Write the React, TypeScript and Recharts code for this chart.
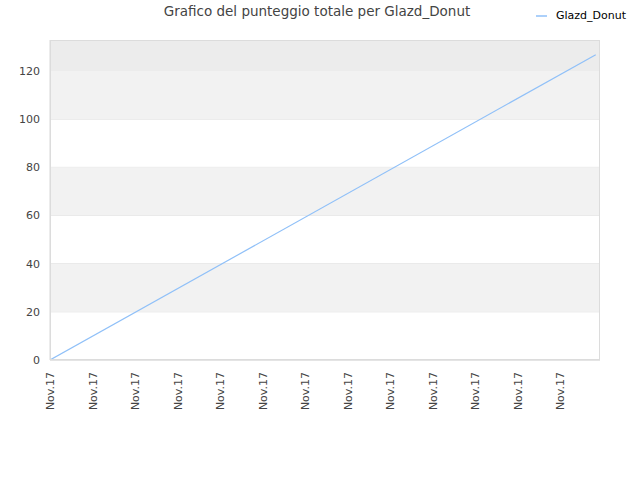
import { LineChart, Line, XAxis, YAxis, CartesianGrid, ReferenceArea } from 'recharts';

// x positions are tick steps along the time axis (all ticks read "Nov.17")
const xValues = [0, 12.84];
const scoreValues = [0, 126.8];
const xTicks = [0, 1, 2, 3, 4, 5, 6, 7, 8, 9, 10, 11, 12];
const xTickLabel = 'Nov.17';
const yTicks = [0, 20, 40, 60, 80, 100, 120];
const yMax = 132.9;

const data = xValues.map((x, i) => ({ x, score: scoreValues[i] }));

const FONT = '"DejaVu Sans", Verdana, sans-serif';

function RotatedTick(props: any) {
  const { x, y } = props;
  return (
    <text
      x={x}
      y={y + 4}
      transform={`rotate(-90, ${x}, ${y + 4})`}
      textAnchor="end"
      dy="0.38em"
      fontSize={11}
      fontFamily={FONT}
      fill="#444"
    >
      {xTickLabel}
    </text>
  );
}

export default function App() {
  return (
    <div style={{ position: 'absolute', left: 0, top: 0, width: 640, height: 480, background: '#fff' }}>
      <div
        style={{
          position: 'absolute',
          top: 3,
          left: 0,
          width: 634,
          textAlign: 'center',
          fontFamily: FONT,
          fontSize: 13.5,
          color: '#444',
        }}
      >
        Grafico del punteggio totale per Glazd_Donut
      </div>
      <div
        style={{
          position: 'absolute',
          top: 9,
          left: 536,
          display: 'flex',
          alignItems: 'center',
          fontFamily: FONT,
          fontSize: 11,
          color: '#000',
        }}
      >
        <svg width={12} height={4} style={{ marginRight: 8 }}>
          <line x1={0} y1={2} x2={11} y2={2} stroke="#90c0f8" strokeWidth={1.5} />
        </svg>
        Glazd_Donut
      </div>
      <LineChart width={640} height={480} data={data} margin={{ top: 40, right: 40, bottom: 60, left: 0 }}>
        {yTicks.map((t, i) => {
          const top = i + 1 < yTicks.length ? yTicks[i + 1] : yMax;
          if (i % 2 === 0 && i < yTicks.length - 1) return null;
          return (
            <ReferenceArea
              key={t}
              x1={0}
              x2={12.94}
              y1={t}
              y2={top}
              fill={i === yTicks.length - 1 ? '#ececec' : '#f2f2f2'}
              fillOpacity={1}
              stroke="none"
              ifOverflow="hidden"
            />
          );
        })}
        <CartesianGrid vertical={false} stroke="#e2e2e2" horizontalValues={yTicks} />
        <XAxis
          dataKey="x"
          type="number"
          domain={[0, 12.94]}
          ticks={xTicks}
          interval={0}
          height={60}
          tick={<RotatedTick />}
          tickLine={false}
          axisLine={{ stroke: '#d8d8d8' }}
          allowDataOverflow
        />
        <YAxis
          type="number"
          domain={[0, yMax]}
          ticks={yTicks}
          width={50}
          tickLine={false}
          tickMargin={4}
          axisLine={{ stroke: '#d8d8d8' }}
          tick={{ fontSize: 11, fontFamily: FONT, fill: '#444' }}
          allowDataOverflow
        />
        <Line
          type="linear"
          dataKey="score"
          stroke="#90c0f8"
          strokeWidth={1.2}
          dot={false}
          isAnimationActive={false}
        />
      </LineChart>
      <div
        style={{
          position: 'absolute',
          left: 50,
          top: 40,
          width: 550,
          height: 320,
          border: '1px solid #dcdcdc',
          boxSizing: 'border-box',
          pointerEvents: 'none',
        }}
      />
    </div>
  );
}
